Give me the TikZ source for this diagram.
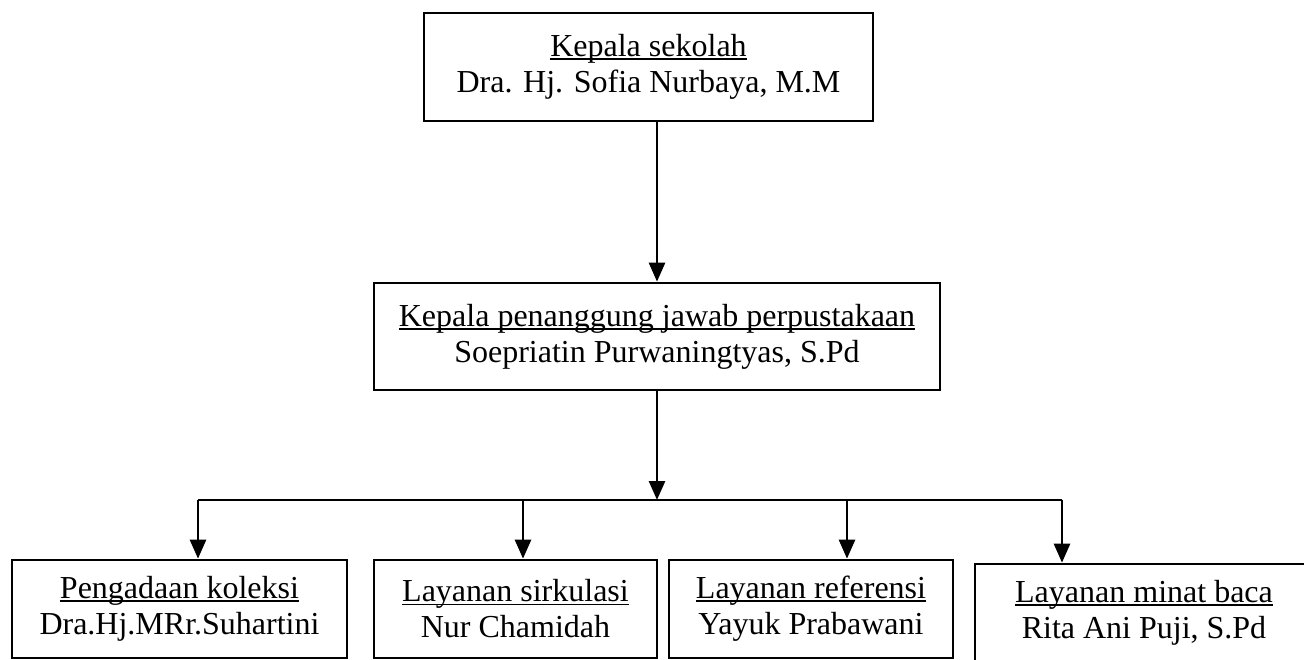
\documentclass[tikz,border=0pt]{standalone}
\usepackage{fontspec}
\setmainfont{Liberation Serif}
\usetikzlibrary{arrows.meta}
\newcommand\ulabel[1]{\setbox0\hbox{#1}\rlap{\copy0}\rule[-0.11em]{\wd0}{0.06em}}

\begin{document}
\begin{tikzpicture}[x=1pt, y=-1pt, line width=2.7pt,
		every node/.style={draw, align=center, inner sep=0pt,
			font=\fontsize{32}{36}\selectfont},
		jabatan/.style={minimum height=#1},
		panah/.style={-{Triangle[width=16pt,length=19pt]}}]
	\clip (0,0) rectangle (1304,660);
	\node[jabatan=108pt, minimum width=449pt] (kepsek) at (648.5,67)
		{\ulabel{Kepala sekolah}\\Dra. Hj. Sofia Nurbaya, M.M};
	\node[jabatan=107pt, minimum width=566pt] (kapus) at (657,336.5)
		{\ulabel{Kepala penanggung jawab perpustakaan}\\Soepriatin Purwaningtyas, S.Pd};
	\node[jabatan=98pt, minimum width=335pt] (pengadaan) at (179.5,609)
		{\ulabel{Pengadaan koleksi}\\Dra.Hj.MRr.Suhartini};
	\node[jabatan=98pt, minimum width=283pt] (sirkulasi) at (515.5,609)
		{\ulabel{Layanan sirkulasi}\\Nur Chamidah};
	\node[jabatan=98pt, minimum width=284pt] (referensi) at (811,609)
		{\ulabel{Layanan referensi}\\Yayuk Prabawani};
	\node[jabatan=98pt, minimum width=338pt] (minat) at (1144,613)
		{\ulabel{Layanan minat baca}\\Rita Ani Puji, S.Pd};
	% garis bagi ke bawah
	\coordinate (bagi) at (657,500);
	\coordinate (bus 1) at (198,500);
	\coordinate (bus 2) at (523,500);
	\coordinate (bus 3) at (847,500);
	\coordinate (bus 4) at (1062,500);
	\draw[panah] (kepsek.south -| kapus.north) -- (kapus.north);
	\draw[panah] (kapus.south) -- (bagi);
	\draw (bus 1) -- (bus 4);
	\foreach \s/\n in {1/pengadaan,2/sirkulasi,3/referensi,4/minat}
		\draw[panah] (bus \s) -- (bus \s |- \n.north);
\end{tikzpicture}
\end{document}
